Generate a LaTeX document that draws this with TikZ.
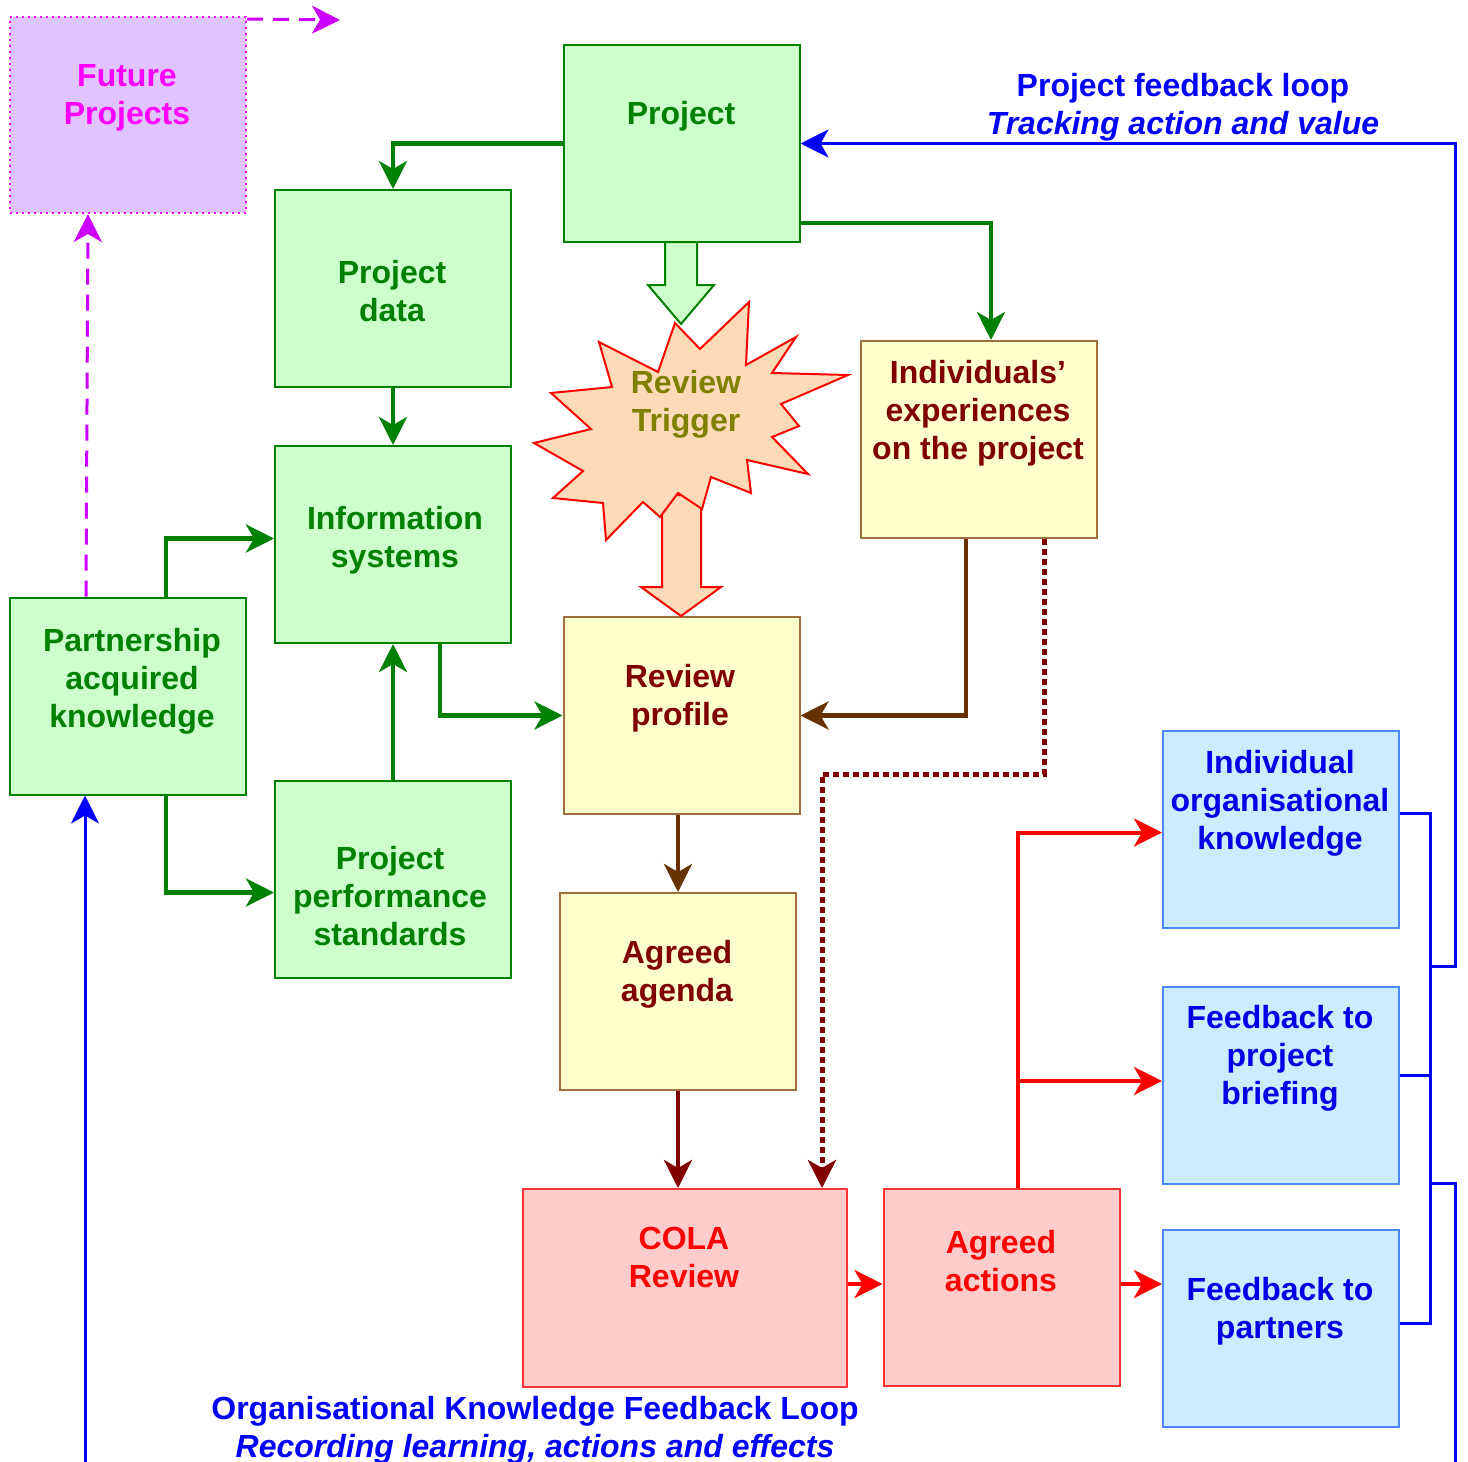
\documentclass[tikz,border=0pt]{standalone}
\usepackage{fontspec}
\setmainfont{Liberation Sans}
\usetikzlibrary{arrows.meta,calc}

\definecolor{fillGreen}{HTML}{CCFFCC}
\definecolor{lineGreen}{HTML}{008000}
\definecolor{fillYellow}{HTML}{FFFFCC}
\definecolor{lineTan}{HTML}{A0703C}
\definecolor{darkRed}{HTML}{800000}
\definecolor{arrowBrown}{HTML}{663300}
\definecolor{fillPink}{HTML}{FFCCCC}
\definecolor{linePink}{HTML}{FF3333}
\definecolor{fillBlue}{HTML}{CCECFF}
\definecolor{lineBlue}{HTML}{4D88FF}
\definecolor{textBlue}{HTML}{0000E6}
\definecolor{loopBlue}{HTML}{0000FF}
\definecolor{fillViolet}{HTML}{E0C4FF}
\definecolor{magentaText}{HTML}{FF00FF}
\definecolor{arrowViolet}{HTML}{CC00FF}
\definecolor{fillPeach}{HTML}{FDDAB8}
\definecolor{olive}{HTML}{808000}

\begin{document}
\begin{tikzpicture}[x=0.5pt, y=-0.5pt,
                    every node/.style = {align=center, font=\fontsize{16}{19}\selectfont\bfseries},
                    box/.style = {draw, line width=1pt, minimum width=118pt, minimum height=98.5pt, inner sep=0pt},
                    greenbox/.style = {box, draw=lineGreen, fill=fillGreen},
                    yellowbox/.style = {box, draw=lineTan, fill=fillYellow},
                    pinkbox/.style = {box, draw=linePink, fill=fillPink},
                    bluebox/.style = {box, draw=lineBlue, fill=fillBlue},
                    conn/.style = {line width=2.2pt, -{Stealth[length=14pt, width=14pt, inset=4pt]}},
                    loop/.style = {draw=loopBlue, line width=1.5pt}]

  \useasboundingbox (0,0) rectangle (1468,1462);

  \node[box, draw=magentaText, dotted, fill=fillViolet, minimum height=98pt] (fut) at (128,115) {};
  \node[text=magentaText] (futT) at (127,98) {Future\\Projects};

  \node[greenbox] (proj) at (681.5,143.5) {};
  \node[text=lineGreen] (projT) at (681,116) {Project};
  \node[greenbox] (pdata) at (393,288.5) {};
  \node[text=lineGreen] (pdataT) at (392,291) {Project\\data};
  \node[greenbox] (infosys) at (393,544.5) {};
  \node[text=lineGreen] (infosysT) at (395,540) {Information\\systems};
  \node[greenbox] (pps) at (393,879.5) {};
  \node[text=lineGreen] (ppsT) at (390,896) {Project\\performance\\standards};
  \node[greenbox] (partner) at (128,696) {};
  \node[text=lineGreen] (partnerT) at (132,681) {Partnership\\acquired\\knowledge};

  \node[yellowbox] (indiv) at (979,439.5) {};
  \node[text=darkRed] (indivT) at (978,413) {Individuals’\\experiences\\on the project};
  \node[yellowbox] (rprof) at (681.5,715.5) {};
  \node[text=darkRed] (rprofT) at (680,698) {Review\\profile};
  \node[yellowbox] (agenda) at (678,991.5) {};
  \node[text=darkRed] (agendaT) at (677,974) {Agreed\\agenda};

  \node[pinkbox, minimum width=162pt, minimum height=99pt] (cola) at (685,1288) {};
  \node[text=red] (colaT) at (684,1257) {COLA\\Review};
  \node[pinkbox] (actions) at (1001.5,1287.5) {};
  \node[text=red] (actionsT) at (1001,1261) {Agreed\\actions};

  \node[bluebox] (iok) at (1281,829.5) {};
  \node[text=textBlue] (iokT) at (1280,803) {Individual\\organisational\\knowledge};
  \node[bluebox] (fpb) at (1281,1085) {};
  \node[text=textBlue] (fpbT) at (1280,1058) {Feedback to\\project\\briefing};
  \node[bluebox] (fpart) at (1281,1328.5) {};
  \node[text=textBlue] (fpartT) at (1280,1311) {Feedback to\\partners};

  \draw[draw=lineGreen, fill=fillGreen, line width=1pt]
    (665,242) -- (665,285) -- (648,285) -- (681,324) -- (714,285) -- (697,285) -- (697,242) -- cycle;
  \draw[draw=red, fill=fillPeach, line width=1pt]
    (662,495) -- (662,587) -- (641,587) -- (681,616) -- (721,587) -- (701,587) -- (701,495) -- cycle;
  \draw[draw=red, fill=fillPeach, line width=1pt]
    (675,323) -- (700,349) -- (749,302) -- (746,365) -- (796,337) -- (772,373) -- (848,375)
    -- (781,404) -- (799,426) -- (772,437) -- (808,474) -- (747,460) -- (751,493) -- (711,477)
    -- (702,509) -- (678,493) -- (660,517) -- (643,502) -- (606,540) -- (603,503) -- (553,498)
    -- (583,471) -- (534,443) -- (591,429) -- (551,393) -- (612,387) -- (599,342) -- (658,372) -- cycle;
  \node[text=olive] (trigT) at (686,404) {Review\\Trigger};

  \draw[conn, lineGreen] (proj.west) -| (pdata.north);
  \draw[conn, lineGreen] ($(proj.south east)+(0,-20)$) -| ($(indiv.north)+(12,0)$);
  \draw[conn, lineGreen] (pdata.south) -- (infosys.north);
  \draw[conn, lineGreen] (pps.north) -- (infosys.south);
  \draw[conn, lineGreen] ($(infosys.south)+(47,0)$) |- (rprof.west);
  \draw[conn, lineGreen] ($(partner.north)+(38,0)$) |- ($(infosys.west)+(0,-6)$);
  \draw[conn, lineGreen] ($(partner.south)+(38,0)$) |- ($(pps.west)+(0,13)$);

  \draw[conn, arrowBrown] ($(indiv.south)+(-13,0)$) |- (rprof.east);
  \draw[conn, darkRed, line width=2.5pt, dash pattern=on 3pt off 2pt]
    ($(indiv.south)+(65,0)$) -- ++(0,235) -| ($(cola.north)+(137,0)$);
  \draw[conn, arrowBrown] (rprof.south -| agenda.north) -- (agenda.north);
  \draw[conn, darkRed] (agenda.south) -- (agenda.south |- cola.north);

  \draw[conn, red, line width=2pt] (cola.east |- 0,1284) -- (actions.west |- 0,1284);
  \draw[conn, red, line width=2pt] (actions.east |- 0,1284) -- (fpart.west |- 0,1284);
  \draw[conn, red, line width=2pt] ($(actions.north)+(16.5,0)$) |- ($(iok.west)+(0,3)$);
  \draw[conn, red, line width=2pt] ($(actions.north)+(16.5,0)$) |- ($(fpb.west)+(0,-4)$);

  \coordinate (jA) at (1429,966);
  \coordinate (jB) at (1429,1183);
  \coordinate (edgeR) at (1455,1462);
  \coordinate (edgeL) at (85,1462);
  \coordinate (futEnd) at (340,20);
  \draw[loop] ($(iok.east)+(0,-16)$) -- ++(30,0) |- ($(fpart.east)+(0,-5)$);
  \draw[loop] ($(fpb.east)+(0,-10)$) -- ++(30,0);
  \draw[loop, conn, line width=1.5pt] (jA) -- (jA -| edgeR) |- (proj.east);
  \draw[loop] (jB) -- (jB -| edgeR) -- (edgeR);
  \draw[loop, conn, line width=1.5pt] (edgeL) -- (edgeL |- partner.south);

  \draw[conn, arrowViolet, line width=1.5pt, dash pattern=on 8pt off 5pt]
    ($(partner.north)+(-42,0)$) -- ($(fut.south)+(-40,0)$);
  \draw[conn, arrowViolet, line width=1.5pt, dash pattern=on 8pt off 5pt]
    ($(fut.north east)+(0,3)$) -- (futEnd);

  \node[text=loopBlue] (pfl) at (1183,107) {Project feedback loop\\\itshape Tracking action and value};
  \node[text=loopBlue] (okfl) at (535,1430) {Organisational Knowledge Feedback Loop\\\itshape Recording learning, actions and effects};
\end{tikzpicture}
\end{document}
